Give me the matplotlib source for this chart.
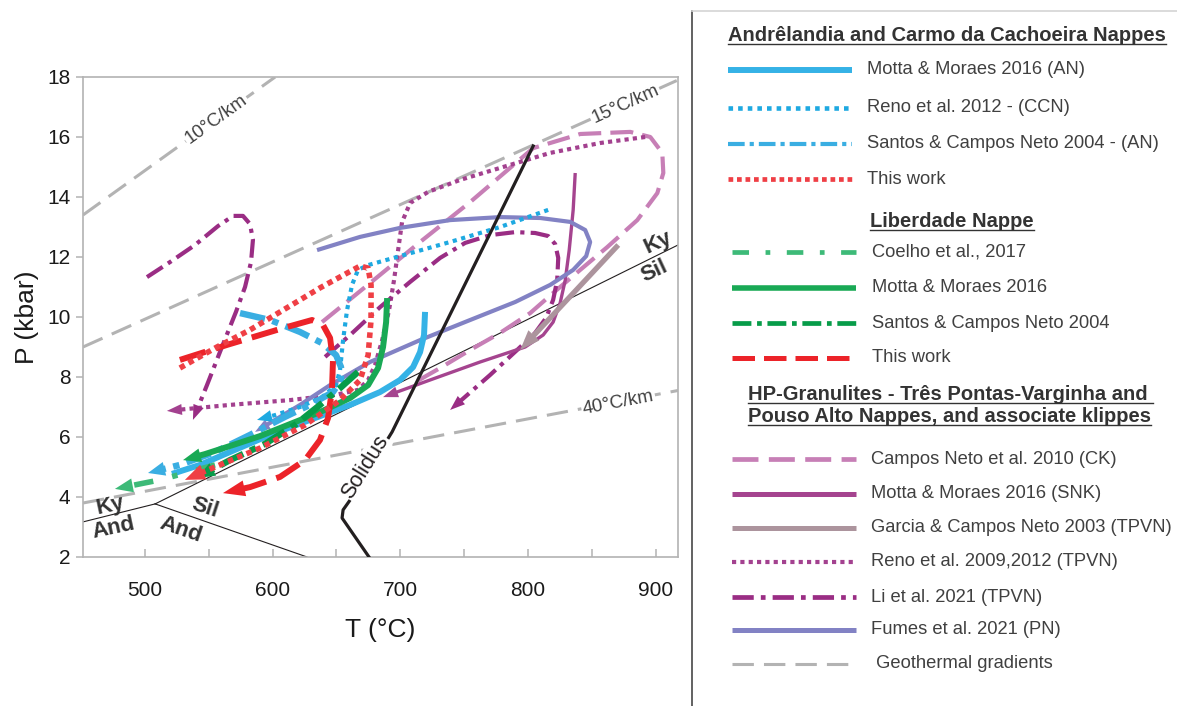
import matplotlib
matplotlib.use("Agg")
import numpy as np
import matplotlib.pyplot as plt
from matplotlib.patches import Polygon

plt.rcParams["font.family"] = ["Liberation Sans", "DejaVu Sans"]

W, H = 1177, 706

# ---- reference lines (T in °C, P in kbar) ----
GEO10_T, GEO10_P = [451.5, 602.0], [13.4, 18.0]
GEO15_T, GEO15_P = [451.5, 917.5], [9.0, 17.9]
GEO40_T, GEO40_P = [451.5, 917.5], [3.8, 7.55]

KY_AND_T, KY_AND_P = [451.5, 508.0], [3.17, 3.77]
AND_SIL_T, AND_SIL_P = [508.0, 627.0], [3.77, 2.0]
KY_SIL_T, KY_SIL_P = [508.0, 917.5], [3.77, 12.4]

SOLIDUS_T = [804.1, 693.6, 660.7, 655.2, 654.4, 675.5]
SOLIDUS_P = [15.7, 6.17, 3.9, 3.57, 3.3, 2.0]

# ---- P-T paths ----
# Andrelandia / Carmo da Cachoeira
MOTTA_AN_T = [719.4, 718.6, 715.5, 710.0, 699.8, 684.2, 660.7, 629.3, 598.0, 566.6, 543.1, 521.2]
MOTTA_AN_P = [10.17, 9.4, 8.83, 8.33, 7.9, 7.5, 7.07, 6.57, 6.07, 5.5, 5.07, 4.77]
RENO_CCN_T = [815.8, 778.2, 739.0, 699.8, 674.8, 666.9, 662.2, 658.3, 655.2, 652.8, 649.7, 638.7, 621.5, 601.9, 587.8]
RENO_CCN_P = [13.57, 13.0, 12.5, 12.03, 11.73, 11.57, 11.07, 10.23, 9.23, 8.23, 7.73, 7.33, 7.0, 6.73, 6.57]
SANTOS_AN_T = [574.5, 598.0, 621.5, 638.7, 649.7, 653.6, 653.6, 647.3, 629.3, 609.7, 582.3, 554.9, 527.4, 502.4]
SANTOS_AN_P = [10.13, 9.9, 9.5, 9.13, 8.73, 8.33, 7.9, 7.5, 7.07, 6.67, 6.07, 5.5, 5.07, 4.8]
THIS_AN_T = [527.4, 556.4, 582.3, 608.2, 637.1, 668.5, 674.8, 677.1, 677.1, 674.8, 668.5, 652.8, 625.4, 590.1, 554.9, 531.3]
THIS_AN_P = [8.3, 9.0, 9.57, 10.23, 10.97, 11.7, 11.63, 11.07, 9.9, 8.73, 7.9, 7.23, 6.4, 5.63, 5.0, 4.57]

# Liberdade
COELHO_T = [554.9, 511.8, 476.5]
COELHO_P = [5.07, 4.57, 4.27]
MOTTA_LIB_T = [689.7, 688.9, 686.5, 682.6, 674.8, 660.7, 637.1, 613.6, 590.1, 566.6, 547.0, 529.8]
MOTTA_LIB_P = [10.63, 9.83, 9.0, 8.3, 7.73, 7.3, 6.83, 6.43, 6.03, 5.7, 5.43, 5.23]
SANTOS_LIB_T = [666.9, 652.8, 637.1, 617.5, 594.0, 566.6, 540.7]
SANTOS_LIB_P = [8.17, 7.63, 7.07, 6.4, 5.77, 5.23, 4.63]
THIS_LIB_T = [527.4, 564.3, 608.2, 630.9, 639.5, 645.0, 647.3, 646.5, 643.4, 637.1, 625.4, 605.8, 582.3, 561.1]
THIS_LIB_P = [8.57, 9.07, 9.63, 9.9, 9.73, 9.3, 8.57, 7.57, 6.63, 5.9, 5.23, 4.67, 4.33, 4.13]

# HP granulites
CK_T = [638.7, 676.3, 715.5, 754.7, 804.1, 840.9, 880.1, 895.8, 905.2, 906.0, 901.3, 885.6, 862.1,
        840.9, 819.7, 801.7, 778.2, 754.7, 731.2, 707.7]
CK_P = [9.83, 11.13, 12.5, 13.83, 15.63, 16.1, 16.17, 16.0, 15.47, 14.8, 14.13, 13.23, 12.33,
        11.57, 10.8, 10.13, 9.47, 8.9, 8.3, 7.73]
SNK_T = [837.0, 835.4, 832.3, 829.2, 825.2, 819.7, 811.9, 797.8, 762.5, 723.3, 686.5]
SNK_P = [14.8, 13.57, 12.23, 11.23, 10.47, 9.83, 9.4, 9.0, 8.5, 7.9, 7.33]
GARCIA_T = [870.7, 793.9]
GARCIA_P = [12.4, 8.9]
RENO_TP_T = [891.8, 856.6, 817.4, 778.2, 746.9, 721.8, 707.7, 701.4, 698.3, 695.1, 691.2, 685.8,
             680.2, 674.8, 666.9, 648.9, 613.6, 566.6, 517.2]
RENO_TP_P = [16.0, 15.8, 15.47, 14.97, 14.57, 14.17, 13.8, 13.17, 12.23, 11.23, 10.23, 9.23,
             8.4, 7.9, 7.57, 7.4, 7.23, 7.07, 6.87]
LI_A_T = [501.6, 519.6, 539.2, 557.2, 569.0, 576.8, 582.3, 584.6, 583.1, 578.4, 571.3, 560.3, 548.6, 537.6]
LI_A_P = [11.33, 11.83, 12.4, 13.03, 13.37, 13.37, 13.1, 12.57, 11.83, 11.0, 10.17, 9.0, 7.73, 6.57]
LI_B_T = [641.1, 660.7, 684.2, 707.7, 731.2, 750.8, 770.4, 790.0, 805.6, 815.8, 821.3, 823.7, 822.9,
          819.7, 814.2, 805.6, 791.5, 770.4, 739.0]
LI_B_P = [8.67, 9.4, 10.33, 11.17, 11.97, 12.47, 12.73, 12.83, 12.8, 12.7, 12.43, 11.97, 11.23,
          10.57, 9.97, 9.47, 8.9, 8.07, 6.9]
FUMES_T = [634.8, 668.5, 699.8, 739.0, 778.2, 809.6, 833.1, 844.8, 848.7, 845.6, 835.4, 817.4, 790.0,
           754.7, 715.5, 676.3, 645.0, 621.5, 601.9, 586.2]
FUMES_P = [12.23, 12.67, 12.97, 13.23, 13.33, 13.3, 13.17, 12.9, 12.5, 12.03, 11.57, 11.07, 10.5,
           9.9, 9.23, 8.5, 7.73, 7.07, 6.57, 6.17]

STYLE = {
    "geo":        dict(color="#b3b3b3", lw=2.2, dashes=(7, 3.3), leg_lw=2.2),
    "motta_an":   dict(color="#35b2e6", lw=4.3, dashes=None, leg_lw=4.3),
    "reno_ccn":   dict(color="#1ea9e1", lw=3.0, dashes=(1, 1.1), leg_lw=3.3),
    "santos_an":  dict(color="#3aaee2", lw=4.6, dashes=(4, 1.2, 1, 1.2), leg_lw=3.0),
    "this_an":    dict(color="#ef3f45", lw=4.0, dashes=(1, 0.8), leg_lw=3.4),
    "coelho":     dict(color="#3dba78", lw=4.0, dashes=(3.5, 3.5, 1, 3.5), leg_lw=3.4),
    "motta_lib":  dict(color="#19a955", lw=4.3, dashes=None, leg_lw=4.0),
    "santos_lib": dict(color="#079c49", lw=4.6, dashes=(4, 1.2, 1, 1.2), leg_lw=3.4),
    "this_lib":   dict(color="#ec2329", lw=4.3, dashes=(4.5, 1.8), leg_lw=3.6),
    "ck":         dict(color="#c77fb6", lw=3.0, dashes=(5.5, 2.2), leg_lw=3.4),
    "snk":        dict(color="#a5448f", lw=2.4, dashes=None, leg_lw=3.6),
    "garcia":     dict(color="#ac949d", lw=3.8, dashes=None, leg_lw=3.6),
    "reno_tp":    dict(color="#a3418f", lw=3.0, dashes=(1, 1), leg_lw=3.0),
    "li":         dict(color="#9a2d84", lw=3.0, dashes=(4.5, 1.5, 1, 1.5), leg_lw=3.4),
    "fumes":      dict(color="#8282c4", lw=3.0, dashes=None, leg_lw=3.6),
}

# drawing order, bottom to top: (style, T, P, arrow head length/width in px)
PATHS = [
    ("ck", CK_T, CK_P, None),
    ("reno_tp", RENO_TP_T, RENO_TP_P, (15, 11)),
    ("li", LI_A_T, LI_A_P, (15, 11)),
    ("li", LI_B_T, LI_B_P, (15, 11)),
    ("snk", SNK_T, SNK_P, (15, 11)),
    ("garcia", GARCIA_T, GARCIA_P, (20, 15)),
    ("fumes", FUMES_T, FUMES_P, (15, 11)),
    ("reno_ccn", RENO_CCN_T, RENO_CCN_P, (15, 12)),
    ("santos_an", SANTOS_AN_T, SANTOS_AN_P, (17, 14)),
    ("motta_an", MOTTA_AN_T, MOTTA_AN_P, None),
    ("coelho", COELHO_T, COELHO_P, (18, 14)),
    ("motta_lib", MOTTA_LIB_T, MOTTA_LIB_P, (18, 14)),
    ("santos_lib", SANTOS_LIB_T, SANTOS_LIB_P, (18, 14)),
    ("this_lib", THIS_LIB_T, THIS_LIB_P, (22, 16)),
    ("this_an", THIS_AN_T, THIS_AN_P, (20, 16)),
]

LEG_AN = [("motta_an", "Motta & Moraes 2016 (AN)"), ("reno_ccn", "Reno et al. 2012 - (CCN)"),
          ("santos_an", "Santos & Campos Neto 2004 - (AN)"), ("this_an", "This work")]
LEG_LIB = [("coelho", "Coelho et al., 2017"), ("motta_lib", "Motta & Moraes 2016"),
           ("santos_lib", "Santos & Campos Neto 2004"), ("this_lib", "This work")]
LEG_HP = [("ck", "Campos Neto et al. 2010 (CK)"), ("snk", "Motta & Moraes 2016 (SNK)"),
          ("garcia", "Garcia & Campos Neto 2003 (TPVN)"), ("reno_tp", "Reno et al. 2009,2012 (TPVN)"),
          ("li", "Li et al. 2021 (TPVN)"), ("fumes", "Fumes et al. 2021 (PN)"),
          ("geo", " Geothermal gradients")]


def line(ax, T, P, st, lw=None, z=3):
    kw = dict(color=st["color"], lw=lw or st["lw"], solid_capstyle="butt",
              dash_capstyle="butt", solid_joinstyle="round", dash_joinstyle="round", zorder=z)
    if st["dashes"]:
        kw["dashes"] = st["dashes"]
    return ax.plot(T, P, **kw)


def path(ax, T, P, st, head, z):
    T, P = list(T), list(P)
    if head:
        hl, hw = head
        to_px, to_dat = ax.transData.transform, ax.transData.inverted().transform
        p1, p2 = to_px((T[-2], P[-2])), to_px((T[-1], P[-1]))
        u = (p2 - p1) / np.hypot(*(p2 - p1))
        n = np.array([-u[1], u[0]])
        base = p2 - u * hl
        tri = to_dat(np.array([p2, base + n * hw / 2, base - n * hw / 2]))
        ax.add_patch(Polygon(tri, closed=True, fc=st["color"], ec="none", zorder=z))
        T[-1], P[-1] = to_dat(p2 - u * hl * 0.75)
    line(ax, T, P, st, z=z)


def main():
    fig = plt.figure(figsize=(W / 100, H / 100), dpi=100)

    # legend panel (pixel coordinates)
    lg = fig.add_axes([0, 0, 1, 1])
    lg.set_xlim(0, W); lg.set_ylim(H, 0); lg.axis("off")
    lg.plot([692, 692], [11, H], color="#555555", lw=1.3)
    lg.plot([692, W], [11, 11], color="#d4d4d4", lw=1.2)

    ax = fig.add_axes([83 / W, 1 - 557 / H, 595 / W, 480 / H])
    ax.set_xlim(451.5, 917.5); ax.set_ylim(2, 18)
    ax.set_xticks(range(500, 901, 50))
    ax.set_xticklabels([str(t) if t % 100 == 0 else "" for t in range(500, 901, 50)])
    ax.set_yticks(range(2, 19, 2))
    for s in ax.spines.values():
        s.set_color("#b3b3b3"); s.set_linewidth(1.2)
    ax.tick_params(axis="x", direction="in", length=6, width=1.1, color="#b3b3b3",
                   labelsize=15, pad=17, labelcolor="#1a1a1a")
    ax.tick_params(axis="y", direction="out", length=5, width=1.1, color="#b3b3b3",
                   labelsize=15, pad=4, labelcolor="#1a1a1a")
    ax.set_xlabel("T (°C)", fontsize=19, labelpad=13, color="#1a1a1a")
    ax.set_ylabel("P (kbar)", fontsize=19, labelpad=6, color="#1a1a1a")

    # geothermal gradients
    for T, P in [(GEO10_T, GEO10_P), (GEO15_T, GEO15_P), (GEO40_T, GEO40_P)]:
        line(ax, T, P, STYLE["geo"], z=1)
    box = dict(fc="white", ec="none", pad=1.0)
    for txt, t, p, rot in [("10°C/km", 555.6, 16.6, 35.7), ("15°C/km", 876.2, 17.1, 24.2),
                           ("40°C/km", 870.7, 7.15, 10.7)]:
        ax.text(t, p, txt, rotation=rot, rotation_mode="anchor", ha="center", va="center",
                fontsize=13.5, color="#404040", bbox=box, zorder=1.5)

    # aluminosilicate fields
    for T, P in [(KY_AND_T, KY_AND_P), (AND_SIL_T, AND_SIL_P), (KY_SIL_T, KY_SIL_P)]:
        ax.plot(T, P, color="#231f20", lw=0.8, zorder=2)
    for txt, t, p, rot in [("Ky", 902.0, 12.47, 25), ("Sil", 898.9, 11.53, 25),
                           ("Ky", 472.6, 3.7, 12), ("And", 475.7, 2.95, 12),
                           ("Sil", 547.0, 3.63, -18), ("And", 528.2, 2.9, -19)]:
        ax.text(t, p, txt, rotation=rot, rotation_mode="anchor", ha="center", va="center",
                fontsize=16, fontweight="bold", color="#333333", zorder=2)

    for i, (key, T, P, head) in enumerate(PATHS):
        path(ax, T, P, STYLE[key], head, z=3 + i * 0.05)

    # solidus
    ax.plot(SOLIDUS_T, SOLIDUS_P, color="#231f20", lw=2.3, zorder=5, solid_joinstyle="round")
    ax.text(672.4, 5.0, "Solidus", rotation=58, rotation_mode="anchor", ha="center", va="center",
            fontsize=15.5, color="#231f20", bbox=dict(fc="white", ec="none", pad=0.5), zorder=5.1)

    # legend
    txtc = "#404040"
    heads = [("Andrêlandia and Carmo da Cachoeira Nappes", 728, 41),
             ("Liberdade Nappe", 870, 227),
             ("HP-Granulites - Três Pontas-Varginha and ", 748, 400),
             ("Pouso Alto Nappes, and associate klippes", 748, 422)]
    htexts = [lg.text(x, y, s, ha="left", va="baseline", fontsize=14.5, fontweight="bold",
                      color="#333333") for s, x, y in heads]
    fig.canvas.draw()
    r = fig.canvas.get_renderer()
    for t, (s, x, y) in zip(htexts, heads):
        bb = t.get_window_extent(r)
        lg.plot([bb.x0, bb.x1], [y + 2.5, y + 2.5], color="#333333", lw=1.0)

    for rows, entries, x0, x1, tx in [([70, 108, 144, 179], LEG_AN, 728, 852, 867),
                                     ([252, 288, 323, 358], LEG_LIB, 732, 856, 872),
                                     ([459, 494, 528, 562, 597, 630, 664], LEG_HP, 732, 856, 871)]:
        for y, (key, lab) in zip(rows, entries):
            st = STYLE[key]
            line(lg, [x0, x1], [y, y], st, lw=st["leg_lw"])
            lg.text(tx, y, lab, ha="left", va="center", fontsize=13.2, color=txtc)

    fig.savefig("out.png", dpi=100)


if __name__ == "__main__":
    main()
